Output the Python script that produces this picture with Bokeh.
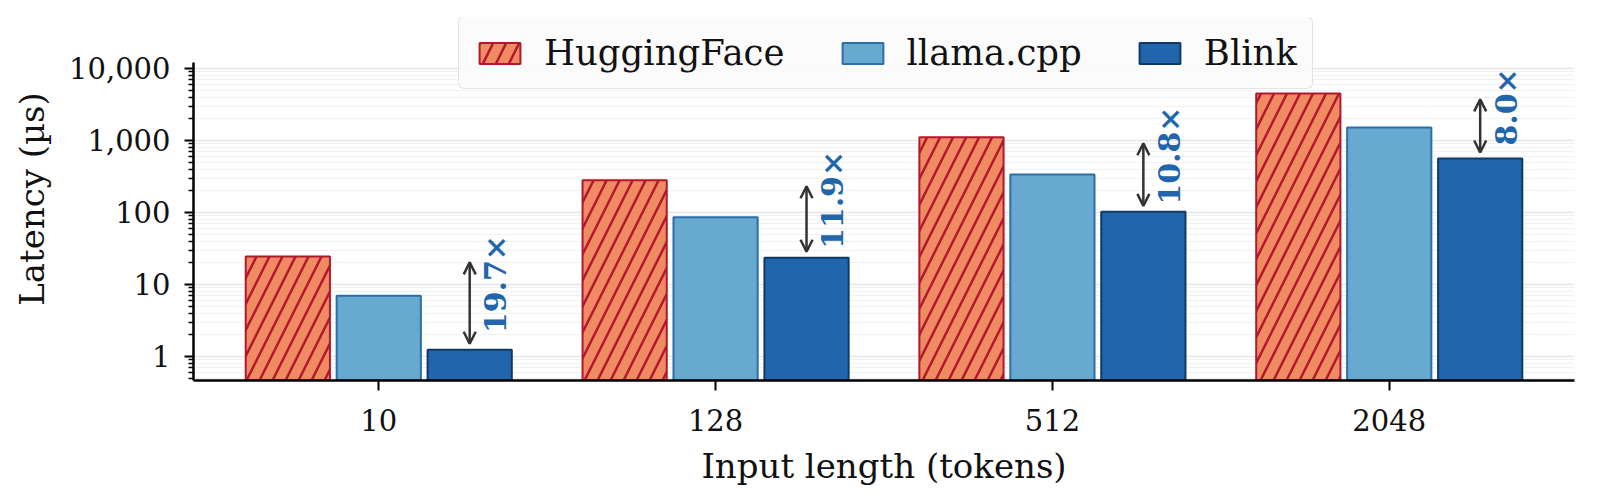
import math

from bokeh.plotting import figure
from bokeh.models import ColumnDataSource, FixedTicker, NumeralTickFormatter, Arrow, OpenHead, Range1d
from bokeh.transform import dodge
from bokeh.core.properties import value
from bokeh.embed import file_html
from bokeh.resources import INLINE

# values (latency in microseconds, log scale)
lengths = ["10", "128", "512", "2048"]
huggingface = [24.5, 280, 1105, 4500]
llama_cpp = [7.0, 86, 337, 1515]
blink = [1.24, 23.5, 102, 563]
speedups = ["19.7×", "11.9×", "10.8×", "8.0×"]
y_ticks = [1, 10, 100, 1000, 10000]

FONT = "DejaVu Serif"
HF_FILL, HF_EDGE = "#ef8a62", "#b2182b"
LL_FILL, LL_EDGE = "#67a9cf", "#2b6ea8"
BL_FILL, BL_EDGE = "#2166ac", "#0d3a66"

OFF = 0.27
BAR_W = 0.25
Y_MIN, Y_MAX = 0.464, 12100     # extent of the drawn y axis
Y_TOP = 51000                   # range goes higher so the legend has room above the axis

src = ColumnDataSource(data=dict(
    x=list(range(len(lengths))),
    hf=huggingface,
    ll=llama_cpp,
    bl=blink,
    label=speedups,
    # arrow runs between the HuggingFace and Blink heights, a bit shrunk at both ends
    a_top=[h / 1.21 for h in huggingface],
    a_bot=[b * 1.21 for b in blink],
    mid=[math.sqrt(h * b) for h, b in zip(huggingface, blink)],
    xb=[i + OFF for i in range(len(lengths))],
))

p = figure(width=1584, height=488, y_axis_type="log",
           x_range=Range1d(-0.55, 3.55), y_range=Range1d(Y_MIN, Y_TOP),
           output_backend="svg", toolbar_location=None, tools="",
           min_border_left=193, min_border_right=10, min_border_top=17, min_border_bottom=108)
p.outline_line_color = None
p.background_fill_color = "white"

bottom = 1e-3
p.vbar(x=dodge("x", -OFF), top="hf", bottom=bottom, width=BAR_W, source=src,
       fill_color=HF_FILL, line_color=HF_EDGE, line_width=2,
       hatch_pattern="/", hatch_color=HF_EDGE, hatch_scale=26, hatch_weight=2.5,
       legend_label="HuggingFace")
p.vbar(x="x", top="ll", bottom=bottom, width=BAR_W, source=src,
       fill_color=LL_FILL, line_color=LL_EDGE, line_width=2,
       legend_label="llama.cpp")
p.vbar(x=dodge("x", OFF), top="bl", bottom=bottom, width=BAR_W, source=src,
       fill_color=BL_FILL, line_color=BL_EDGE, line_width=2,
       legend_label="Blink")

head = dict(size=12, line_color="#333333", line_width=2.5)
p.add_layout(Arrow(start=OpenHead(**head), end=OpenHead(**head),
                   x_start="xb", y_start="a_bot", x_end="xb", y_end="a_top",
                   line_color="#333333", line_width=2.5, source=src))

p.text(x="xb", y="mid", text="label", source=src, angle=math.pi / 2,
       x_offset=26, y_offset=-19, text_align="center", text_baseline="middle",
       text_font=value(FONT), text_font_style="bold", text_font_size="30px",
       text_color="#2166ac")

# axes
p.xaxis.ticker = FixedTicker(ticks=list(range(len(lengths))))
p.xaxis.major_label_overrides = {i: s for i, s in enumerate(lengths)}
p.xaxis.axis_label = "Input length (tokens)"
p.yaxis.axis_label = "Latency (µs)"
minor = [m * 10 ** k for k in range(-1, 5) for m in range(2, 10)]
p.yaxis.ticker = FixedTicker(ticks=y_ticks, minor_ticks=[t for t in minor if Y_MIN <= t <= Y_MAX])
p.yaxis.formatter = NumeralTickFormatter(format="0,0")
p.yaxis.bounds = (Y_MIN, Y_MAX)

for ax in (p.xaxis, p.yaxis):
    ax.axis_line_color = "black"
    ax.axis_line_width = 2.5
    ax.major_tick_line_color = "black"
    ax.major_tick_line_width = 2
    ax.major_tick_in = 0
    ax.major_label_text_font = FONT
    ax.major_label_text_font_size = "29px"
    ax.major_label_text_color = "#111111"
    ax.axis_label_text_font = FONT
    ax.axis_label_text_font_size = "34px"
    ax.axis_label_text_font_style = "normal"
    ax.axis_label_text_color = "#111111"

p.xaxis.major_tick_out = 10
p.xaxis.minor_tick_line_color = None
p.xaxis.major_label_standoff = 18
p.xaxis.axis_label_standoff = 12
p.yaxis.major_tick_out = 9
p.yaxis.minor_tick_out = 5
p.yaxis.minor_tick_in = 0
p.yaxis.minor_tick_line_color = "black"
p.yaxis.minor_tick_line_width = 1.5
p.yaxis.major_label_standoff = 14
p.yaxis.axis_label_standoff = 14

# grid
p.xgrid.grid_line_color = None
p.ygrid.grid_line_color = "#e6e6e6"
p.ygrid.grid_line_width = 1.5
p.ygrid.minor_grid_line_color = "#f1f1f1"
p.ygrid.minor_grid_line_width = 1
p.ygrid.bounds = (Y_MIN, Y_MAX)

# legend
lg = p.legend[0]
lg.orientation = "horizontal"
lg.location = (265, 291)
lg.margin = 0
lg.padding = 15
lg.spacing = 52
lg.glyph_width = 51
lg.glyph_height = 26
lg.label_standoff = 19
lg.label_text_font = FONT
lg.label_text_font_size = "35.5px"
lg.label_text_color = "#111111"
lg.background_fill_color = "#fbfbfb"
lg.background_fill_alpha = 0.9
lg.border_line_color = "#cccccc"
lg.border_line_width = 1.5
if "border_radius" in lg.properties():
    lg.border_radius = 6

open("out.html", "w").write(file_html(p, INLINE))
